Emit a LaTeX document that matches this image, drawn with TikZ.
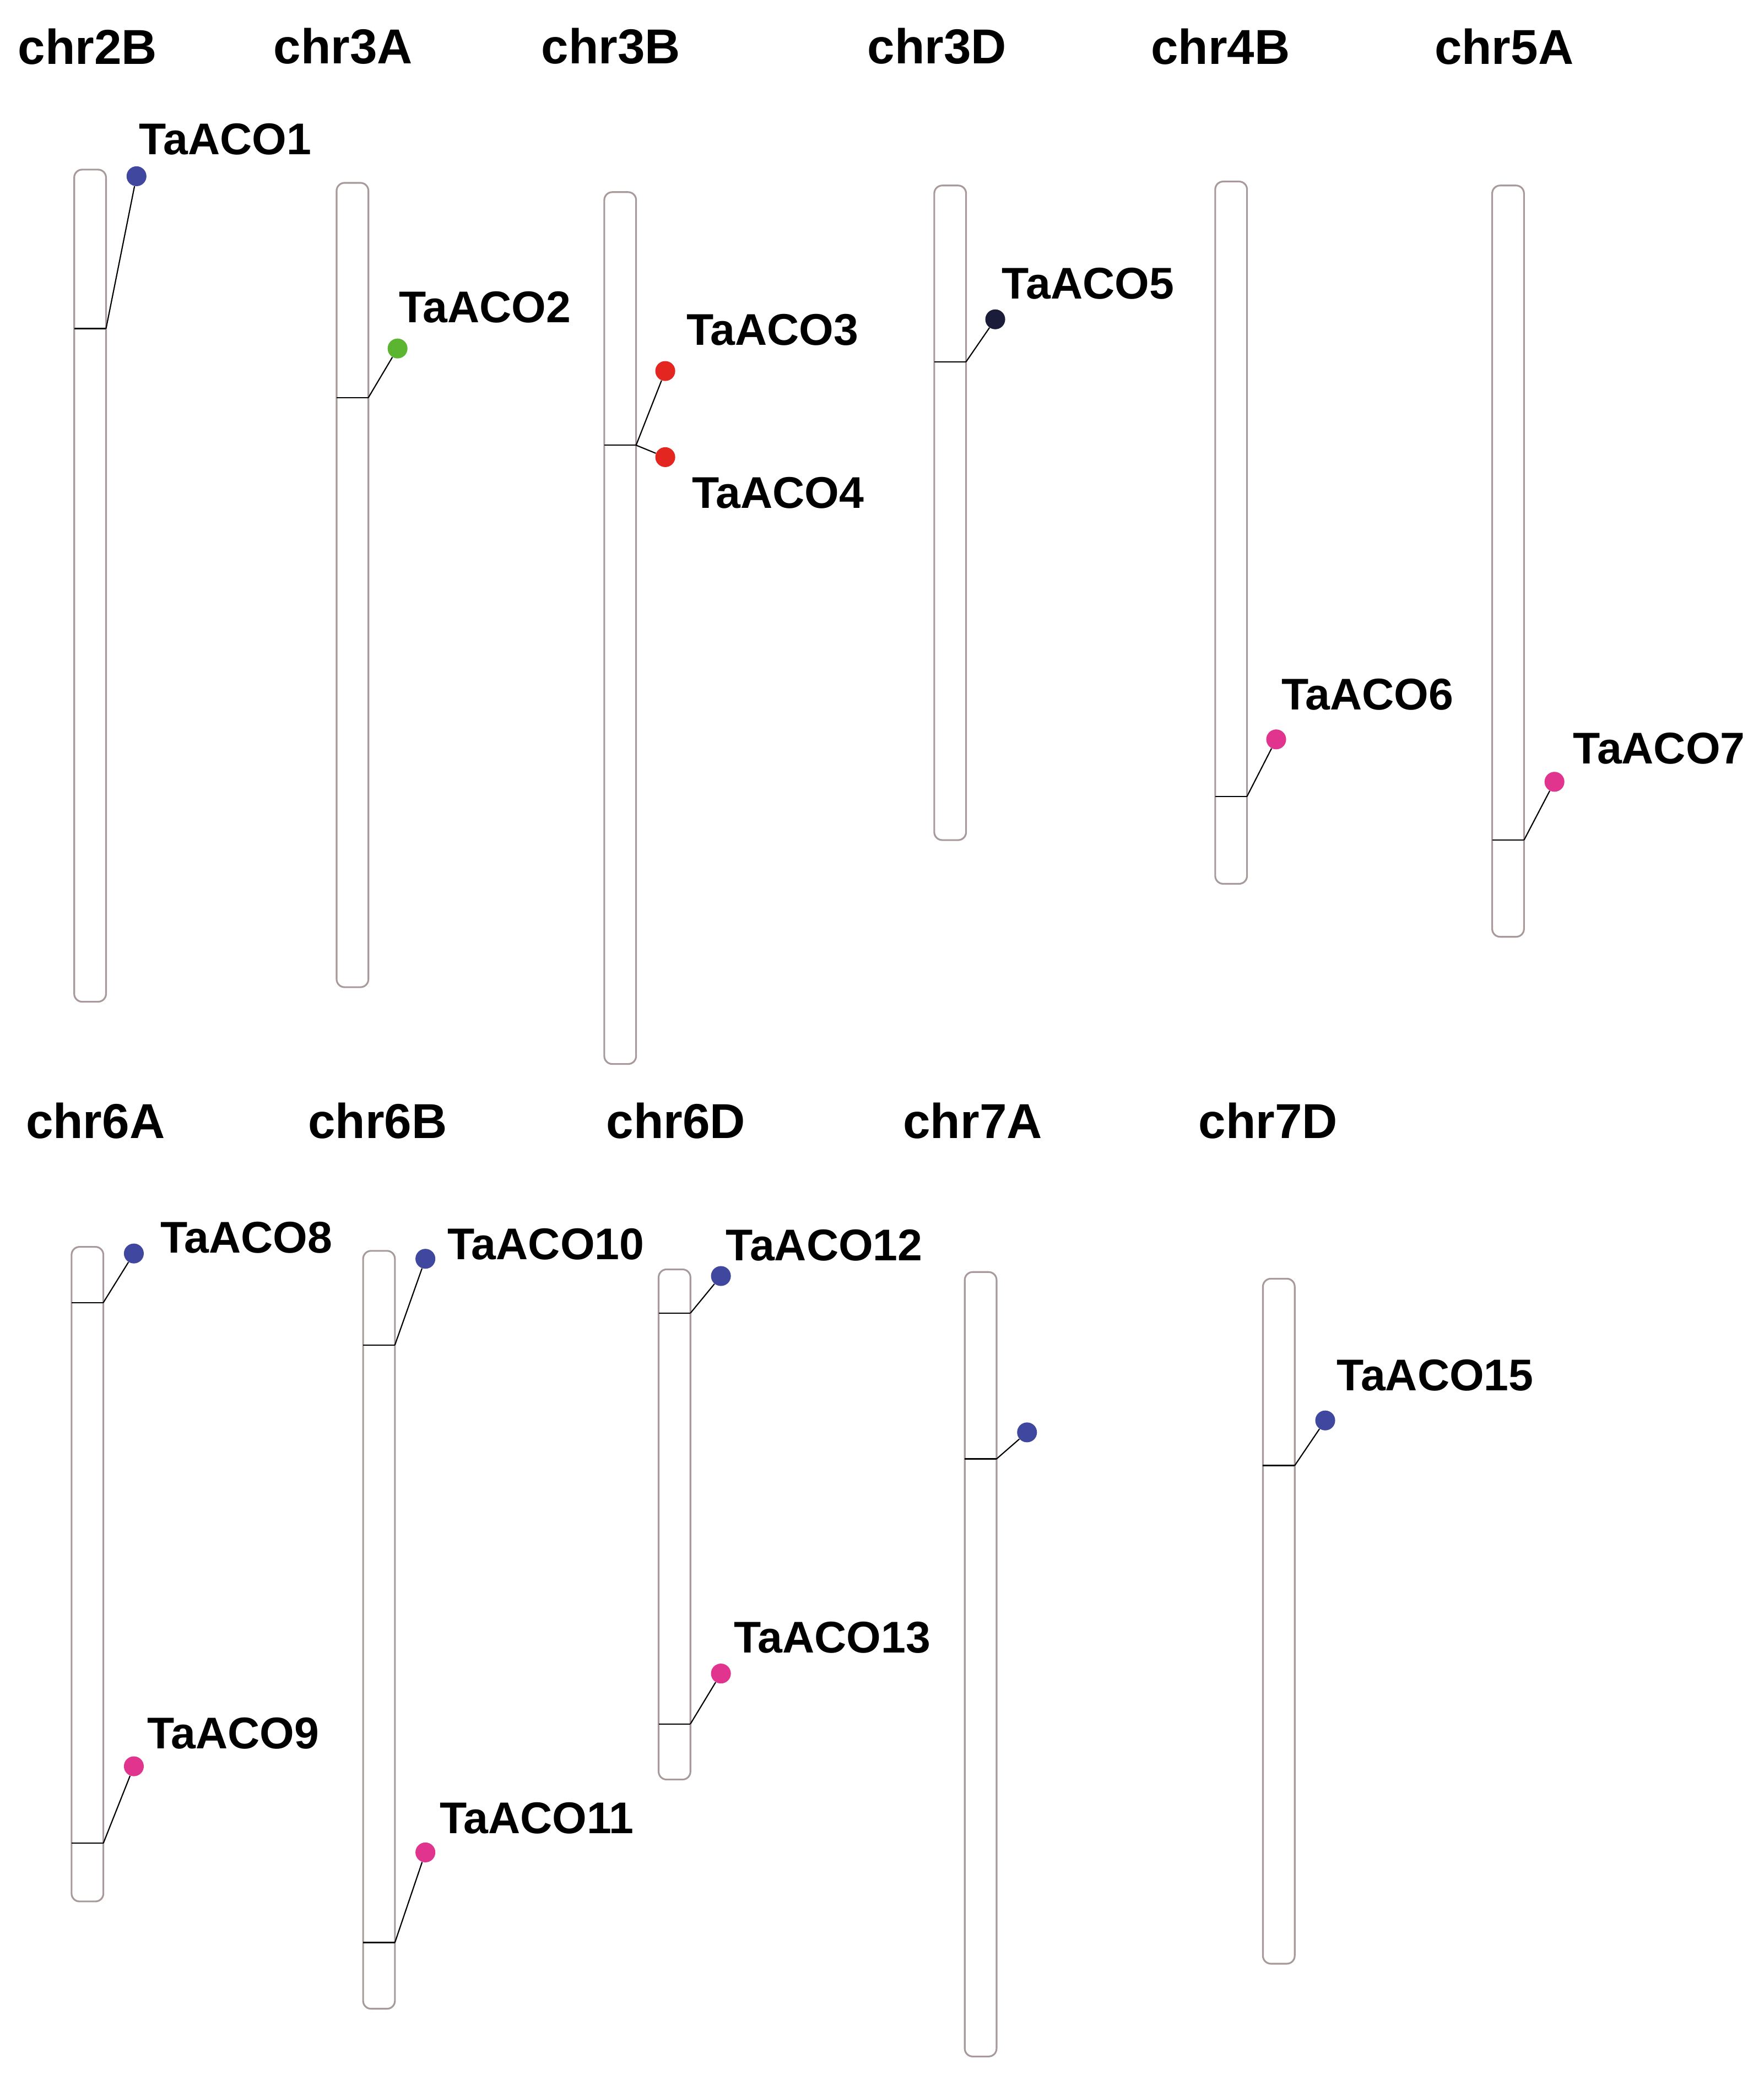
\documentclass[tikz,border=0pt]{standalone}
\usepackage{fontspec}
\setmainfont{Liberation Sans}
\definecolor{cblue}{HTML}{3F479E}
\definecolor{cpink}{HTML}{E1348F}
\definecolor{cred}{HTML}{E3261F}
\definecolor{cgreen}{HTML}{5CB531}
\definecolor{cnavy}{HTML}{1B1B3A}
\definecolor{chrom}{HTML}{A89A9A}
\begin{document}
\begin{tikzpicture}[x=1pt,y=-1pt,
  chrlab/.style={font=\fontsize{37}{42}\selectfont\bfseries,anchor=center},
  genelab/.style={font=\fontsize{33.5}{38}\selectfont\bfseries,anchor=center},
  dot/.style={circle,inner sep=0pt,minimum size=15pt,fill=#1},
  chr/.style={draw=chrom,line width=1.3pt,rounded corners=6pt},
  gmk/.style={black,line width=0.9pt},
  link/.style={black,line width=0.9pt}]
\useasboundingbox (0,0) rectangle (1331,1566);
\newcommand{\chromo}[4]{%
  \draw[chr] (#2,#3) rectangle (#2+24,#4);
}
\node[chrlab] (l2B) at (66,35) {chr2B};
\node[chrlab] (l3A) at (259,35) {chr3A};
\node[chrlab] (l3B) at (461,35) {chr3B};
\node[chrlab] (l3D) at (707,35) {chr3D};
\node[chrlab] (l4B) at (921,35) {chr4B};
\node[chrlab] (l5A) at (1135,35) {chr5A};
\node[chrlab] (l6A) at (72,846) {chr6A};
\node[chrlab] (l6B) at (285,846) {chr6B};
\node[chrlab] (l6D) at (510,846) {chr6D};
\node[chrlab] (l7A) at (734,846) {chr7A};
\node[chrlab] (l7D) at (957,846) {chr7D};
\chromo{2B}{56}{128}{756}
\chromo{3A}{254}{138}{745}
\chromo{3B}{456}{145}{803}
\chromo{3D}{705}{140}{634}
\chromo{4B}{917}{137}{667}
\chromo{5A}{1126}{140}{707}
\chromo{6A}{54}{941}{1435}
\chromo{6B}{274}{944}{1516}
\chromo{6D}{497}{958}{1343}
\chromo{7A}{728}{960}{1552}
\chromo{7D}{953}{965}{1482}
\newcommand{\gmark}[3]{%
  \draw[gmk] (#2,#3) -- (#2+24,#3) coordinate (#1);
}
\gmark{m1}{56}{248}
\gmark{m2}{254}{300}
\gmark{m3}{456}{336}
\gmark{m5}{705}{273}
\gmark{m6}{917}{601}
\gmark{m7}{1126}{634}
\gmark{m8}{54}{983}
\gmark{m9}{54}{1391}
\gmark{m10}{274}{1015}
\gmark{m11}{274}{1466}
\gmark{m12}{497}{991}
\gmark{m13}{497}{1301}
\gmark{m14}{728}{1101}
\gmark{m15}{953}{1106}
\node[dot=cblue] (d1) at (103,133) {};
\node[dot=cgreen] (d2) at (300,263) {};
\node[dot=cred] (d3) at (502,280) {};
\node[dot=cred] (d4) at (502,345) {};
\node[dot=cnavy] (d5) at (751,241) {};
\node[dot=cpink] (d6) at (963,558) {};
\node[dot=cpink] (d7) at (1173,590) {};
\node[dot=cblue] (d8) at (101,946) {};
\node[dot=cpink] (d9) at (101,1333) {};
\node[dot=cblue] (d10) at (321,950) {};
\node[dot=cpink] (d11) at (321,1398) {};
\node[dot=cblue] (d12) at (544,963) {};
\node[dot=cpink] (d13) at (544,1263) {};
\node[dot=cblue] (d14) at (775,1081) {};
\node[dot=cblue] (d15) at (1000,1072) {};
\draw[link] (m1) -- (d1);
\draw[link] (m2) -- (d2);
\draw[link] (m3) -- (d3);
\draw[link] (m3) -- (d4);
\draw[link] (m5) -- (d5);
\draw[link] (m6) -- (d6);
\draw[link] (m7) -- (d7);
\draw[link] (m8) -- (d8);
\draw[link] (m9) -- (d9);
\draw[link] (m10) -- (d10);
\draw[link] (m11) -- (d11);
\draw[link] (m12) -- (d12);
\draw[link] (m13) -- (d13);
\draw[link] (m14) -- (d14);
\draw[link] (m15) -- (d15);
\node[genelab] (g1) at (170,105) {TaACO1};
\node[genelab] (g2) at (366,232) {TaACO2};
\node[genelab] (g3) at (583,249) {TaACO3};
\node[genelab] (g4) at (587,372) {TaACO4};
\node[genelab] (g5) at (821,214) {TaACO5};
\node[genelab] (g6) at (1032,524) {TaACO6};
\node[genelab] (g7) at (1252,565) {TaACO7};
\node[genelab] (g8) at (186,934) {TaACO8};
\node[genelab] (g9) at (176,1308) {TaACO9};
\node[genelab] (g10) at (412,939) {TaACO10};
\node[genelab] (g11) at (405,1372) {TaACO11};
\node[genelab] (g12) at (622,940) {TaACO12};
\node[genelab] (g13) at (628,1236) {TaACO13};
\node[genelab] (g15) at (1083,1038) {TaACO15};
\end{tikzpicture}
\end{document}
